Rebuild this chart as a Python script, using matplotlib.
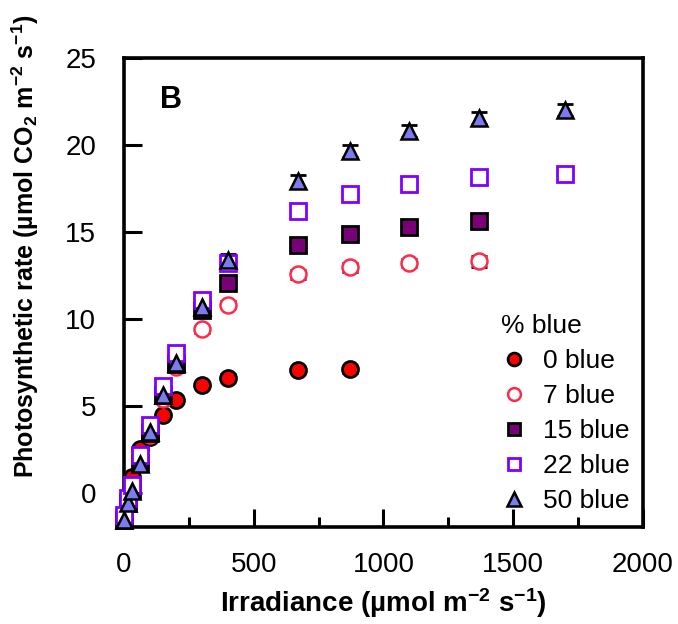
import matplotlib
matplotlib.use("Agg")
import matplotlib.pyplot as plt

plt.rcParams["font.family"] = ["Liberation Sans", "DejaVu Sans"]
plt.rcParams["mathtext.fontset"] = "custom"
plt.rcParams["mathtext.rm"] = "Liberation Sans:bold"
plt.rcParams["mathtext.bf"] = "Liberation Sans:bold"
plt.rcParams["mathtext.default"] = "bf"

# irradiance levels (umol m-2 s-1)
irr = [0, 15, 30, 60, 100, 150, 200, 300, 400, 670, 870, 1100, 1370, 1700]

blue0_x = [0, 15, 30, 60, 100, 150, 200, 300, 400, 670, 870]
blue0_y = [-1.5, -0.3, 0.9, 2.5, 3.2, 4.45, 5.3, 6.2, 6.6, 7.05, 7.1]
blue0_err = [0.15, 0.15, 0.15, 0.15, 0.15, 0.15, 0.15, 0.15, 0.2, 0.2, 0.2]

blue7_x = [0, 15, 30, 60, 100, 150, 200, 300, 400, 670, 870, 1100, 1370]
blue7_y = [-1.5, -0.5, 0.3, 1.7, 3.3, 5.4, 7.2, 9.4, 10.8, 12.55, 12.95, 13.2, 13.3]
blue7_err = [0.15, 0.15, 0.15, 0.15, 0.15, 0.15, 0.2, 0.2, 0.2, 0.25, 0.25, 0.25, 0.3]

blue15_x = [0, 15, 30, 60, 100, 150, 200, 300, 400, 670, 870, 1100, 1370]
blue15_y = [-1.6, -0.6, 0.2, 1.7, 3.4, 5.6, 7.4, 10.5, 12.05, 14.25, 14.9, 15.3, 15.6]
blue15_err = [0.15, 0.15, 0.15, 0.15, 0.15, 0.15, 0.2, 0.2, 0.2, 0.25, 0.25, 0.3, 0.3]

blue22_x = irr
blue22_y = [-1.3, -0.3, 0.45, 2.15, 3.9, 6.15, 8.0, 11.1, 13.2, 16.2, 17.2, 17.75, 18.15, 18.35]
blue22_err = [0.15, 0.15, 0.15, 0.15, 0.15, 0.15, 0.2, 0.2, 0.2, 0.25, 0.25, 0.3, 0.3, 0.3]

blue50_x = irr
blue50_y = [-1.6, -0.6, 0.1, 1.65, 3.5, 5.6, 7.45, 10.7, 13.4, 17.9, 19.65, 20.8, 21.55, 22.0]
blue50_err = [0.15, 0.15, 0.15, 0.15, 0.15, 0.2, 0.2, 0.25, 0.3, 0.35, 0.35, 0.35, 0.35, 0.35]

xticks = [0, 500, 1000, 1500, 2000]
yticks = [0, 5, 10, 15, 20, 25]

fig = plt.figure(figsize=(6.78, 6.24), dpi=100)
ax = fig.add_axes([0.183, 0.155, 0.765, 0.752])

series = [
    (blue0_x, blue0_y, blue0_err, "o", "#ff0000", "black", 2.0, 11.5, "0 blue"),
    (blue7_x, blue7_y, blue7_err, "o", "white", "#ff2a4a", 1.8, 11.5, "7 blue"),
    (blue15_x, blue15_y, blue15_err, "s", "#7a0078", "black", 2.0, 11.5, "15 blue"),
    (blue22_x, blue22_y, blue22_err, "s", "white", "#7f00ff", 2.0, 11.5, "22 blue"),
    (blue50_x, blue50_y, blue50_err, "^", "#7b7bef", "black", 1.8, 12, "50 blue"),
]

for x, y, e, m, fc, ec, lw, ms, lab in series:
    ax.errorbar(x, y, yerr=e, fmt="none", ecolor="black", elinewidth=1.5,
                capsize=6, capthick=2, clip_on=False, zorder=2)
    ax.plot(x, y, linestyle="none", marker=m, markerfacecolor=fc,
            markeredgecolor=ec, markeredgewidth=lw, markersize=ms,
            label=lab, clip_on=False, zorder=3)

ax.set_xlim(0, 2000)
ax.set_ylim(-2, 25)
ax.set_xticks(xticks)
ax.set_xticks([250, 750, 1250, 1750], minor=True)
ax.set_yticks(yticks)
ax.tick_params(axis="both", which="major", direction="in", length=13, width=2.2,
               labelsize=20)
ax.tick_params(axis="x", which="major", pad=18)
ax.tick_params(axis="y", which="major", pad=20)
ax.tick_params(axis="x", which="minor", direction="in", length=7, width=2.2)
for s in ax.spines.values():
    s.set_linewidth(2.6)

ax.set_xlabel("Irradiance (\u00b5mol m$^{-2}$ s$^{-1}$)", fontsize=20,
              fontweight="bold", labelpad=6)
ax.set_ylabel("Photosynthetic rate (\u00b5mol CO$_2$ m$^{-2}$ s$^{-1}$)",
              fontsize=18, fontweight="bold")
ax.yaxis.set_label_coords(-0.16, 0.6)

ax.text(0.09, 0.91, "B", transform=ax.transAxes, fontsize=22,
        fontweight="bold", ha="center", va="center")

leg = ax.legend(title="% blue", frameon=False, loc="lower right",
                bbox_to_anchor=(0.975, 0.03), borderaxespad=0, borderpad=0,
                fontsize=19, title_fontsize=19, markerscale=0.8,
                handlelength=1.0, handletextpad=0.6, labelspacing=0.42,
                alignment="left")

fig.savefig("out.png", dpi=100)
